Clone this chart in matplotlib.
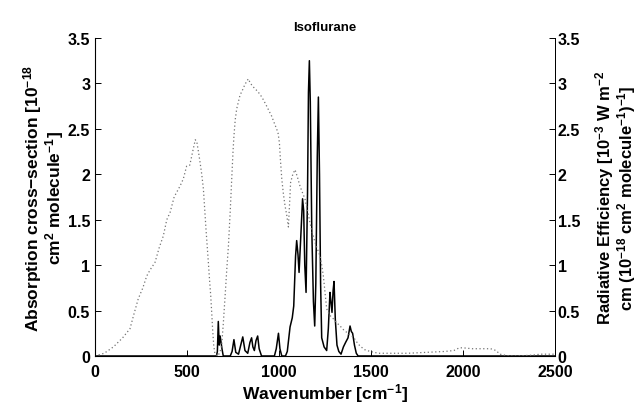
import matplotlib
matplotlib.use('Agg')
import matplotlib.pyplot as plt
from matplotlib.ticker import FormatStrFormatter

plt.rcParams['font.family'] = ['Liberation Sans', 'DejaVu Sans']
plt.rcParams['font.weight'] = 'bold'
plt.rcParams['mathtext.fontset'] = 'custom'
plt.rcParams['mathtext.rm'] = 'Liberation Sans:bold'
plt.rcParams['mathtext.bf'] = 'Liberation Sans:bold'
plt.rcParams['mathtext.default'] = 'bf'

# absorption cross-section (solid line)
wn_abs = [0, 660, 665, 670, 675, 680, 685, 690, 697, 735, 745, 755, 765, 780, 792, 803,
          815, 830, 842, 851, 858, 866, 875, 884, 892, 905, 975, 985, 997, 1005, 1015,
          1035, 1045, 1060, 1072, 1080, 1090, 1096, 1103, 1109, 1118, 1128, 1134, 1140,
          1147, 1155, 1160, 1165, 1170, 1178, 1187, 1194, 1200, 1208, 1214, 1220, 1226,
          1232, 1245, 1259, 1268, 1277, 1282, 1288, 1294, 1299, 1306, 1315, 1325, 1337,
          1350, 1362, 1375, 1386, 1393, 1400, 1410, 1420, 1430, 2500]
absorp = [0, 0, 0.05, 0.38, 0.12, 0.22, 0.15, 0.08, 0.0, 0.0, 0.05, 0.18, 0.04, 0.02, 0.12, 0.21,
          0.06, 0.03, 0.15, 0.20, 0.10, 0.06, 0.17, 0.22, 0.08, 0.0, 0.0, 0.08, 0.25, 0.08, 0.0,
          0.0, 0.05, 0.32, 0.42, 0.55, 1.1, 1.27, 1.12, 0.92, 1.3, 1.73, 1.6, 1.0,
          0.70, 1.8, 2.9, 3.25, 2.8, 1.4, 0.6, 0.33, 0.8, 2.2, 2.85, 2.0, 0.8,
          0.2, 0.1, 0.06, 0.3, 0.70, 0.6, 0.48, 0.72, 0.82, 0.4, 0.12, 0.05, 0.02,
          0.1, 0.15, 0.2, 0.33, 0.27, 0.25, 0.12, 0.03, 0.0, 0.0]

# radiative efficiency (dotted line)
wn_re = [0, 50, 100, 150, 190, 210, 235, 260, 281, 300, 326, 350, 371, 390, 408, 430,
         462, 480, 498, 515, 534, 545, 553, 562, 571, 580, 589, 596, 603, 610, 616, 622,
         629, 635, 639, 645, 652, 668, 680, 688, 697, 707, 716, 725, 735, 743, 750, 755,
         762, 770, 788, 800, 815, 833, 845, 861, 880, 897, 915, 933, 950, 960, 975, 987,
         995, 1002, 1008, 1015, 1024, 1033, 1042, 1051, 1058, 1063, 1075, 1087, 1100,
         1114, 1127, 1141, 1155, 1168, 1182, 1196, 1210, 1223, 1232, 1241, 1250, 1259,
         1275, 1295, 1312, 1332, 1350, 1368, 1386, 1404, 1420, 1440, 1465, 1495, 1540,
         1600, 1700, 1800, 1900, 1950, 1980, 2000, 2050, 2100, 2150, 2180, 2200, 2250,
         2300, 2380, 2420, 2500]
rad_eff = [0, 0.03, 0.10, 0.20, 0.30, 0.45, 0.63, 0.75, 0.88, 0.95, 1.03, 1.20, 1.32, 1.50, 1.58, 1.75,
           1.87, 1.95, 2.09, 2.10, 2.28, 2.38, 2.36, 2.25, 2.13, 2.0, 1.84, 1.62, 1.40, 1.20, 1.03, 0.85,
           0.66, 0.45, 0.30, 0.12, 0.02, 0.0, 0.05, 0.11, 0.35, 0.66, 0.95, 1.21, 1.6, 1.95, 2.25, 2.42,
           2.6, 2.72, 2.87, 2.92, 2.99, 3.05, 3.0, 2.96, 2.92, 2.88, 2.82, 2.75, 2.68, 2.64, 2.56, 2.50,
           2.45, 2.35, 2.15, 1.95, 1.78, 1.65, 1.55, 1.42, 1.70, 1.91, 2.0, 2.05, 1.97,
           1.87, 1.80, 1.73, 1.6, 1.47, 1.35, 1.25, 1.17, 1.10, 1.0, 0.88, 0.7, 0.52,
           0.45, 0.41, 0.37, 0.33, 0.29, 0.26, 0.23, 0.21, 0.16, 0.11, 0.07, 0.05, 0.03,
           0.03, 0.03, 0.04, 0.05, 0.06, 0.09, 0.09, 0.08, 0.08, 0.08, 0.06, 0.02, 0.0,
           0.0, 0.01, 0.02, 0.02]

xticks = [0, 500, 1000, 1500, 2000, 2500]
yticks = [0, 0.5, 1, 1.5, 2, 2.5, 3, 3.5]

fig, ax = plt.subplots(figsize=(6.42, 4.14), dpi=100)
fig.subplots_adjust(left=0.148, right=0.8645, bottom=0.1377, top=0.9058)

ax.plot(wn_abs, absorp, color='black', linewidth=1.1)
ax.set_xlim(0, 2500)
ax.set_ylim(0, 3.5)
ax.set_xticks(xticks)
ax.set_yticks(yticks)
ax.yaxis.set_major_formatter(FormatStrFormatter('%g'))
ax.tick_params(direction='in', length=4, labelsize=11.5, width=0.7)
ax.tick_params(axis='x', pad=6)
ax.spines['top'].set_visible(False)
for s in ['left', 'bottom', 'right']:
    ax.spines[s].set_linewidth(0.7)
ax.set_xlabel('Wavenumber [cm$^{-1}$]', fontsize=12.5, fontweight='bold', labelpad=1)
ax.set_ylabel('Absorption cross\u2212section [10$^{-18}$\ncm$^{2}$ molecule$^{-1}$]',
              fontsize=12.5, fontweight='bold', labelpad=1, linespacing=0.95)
ax.set_title('Isoflurane', fontsize=9.5, fontweight='bold', pad=6)

ax2 = ax.twinx()
ax2.plot(wn_re, rad_eff, color='0.45', linestyle=(0, (1, 2)), linewidth=0.9)
ax2.set_ylim(0, 3.5)
ax2.set_yticks(yticks)
ax2.yaxis.set_major_formatter(FormatStrFormatter('%g'))
ax2.tick_params(direction='in', length=4, labelsize=11.5, width=0.7, pad=2)
ax2.spines['top'].set_visible(False)
ax2.spines['right'].set_linewidth(0.7)
ax2.set_ylabel('Radiative Efficiency [10$^{-3}$ W m$^{-2}$\ncm (10$^{-18}$ cm$^{2}$ molecule$^{-1}$)$^{-1}$]',
               fontsize=12, fontweight='bold', labelpad=9, linespacing=0.95)

fig.savefig('out.png', dpi=100)
